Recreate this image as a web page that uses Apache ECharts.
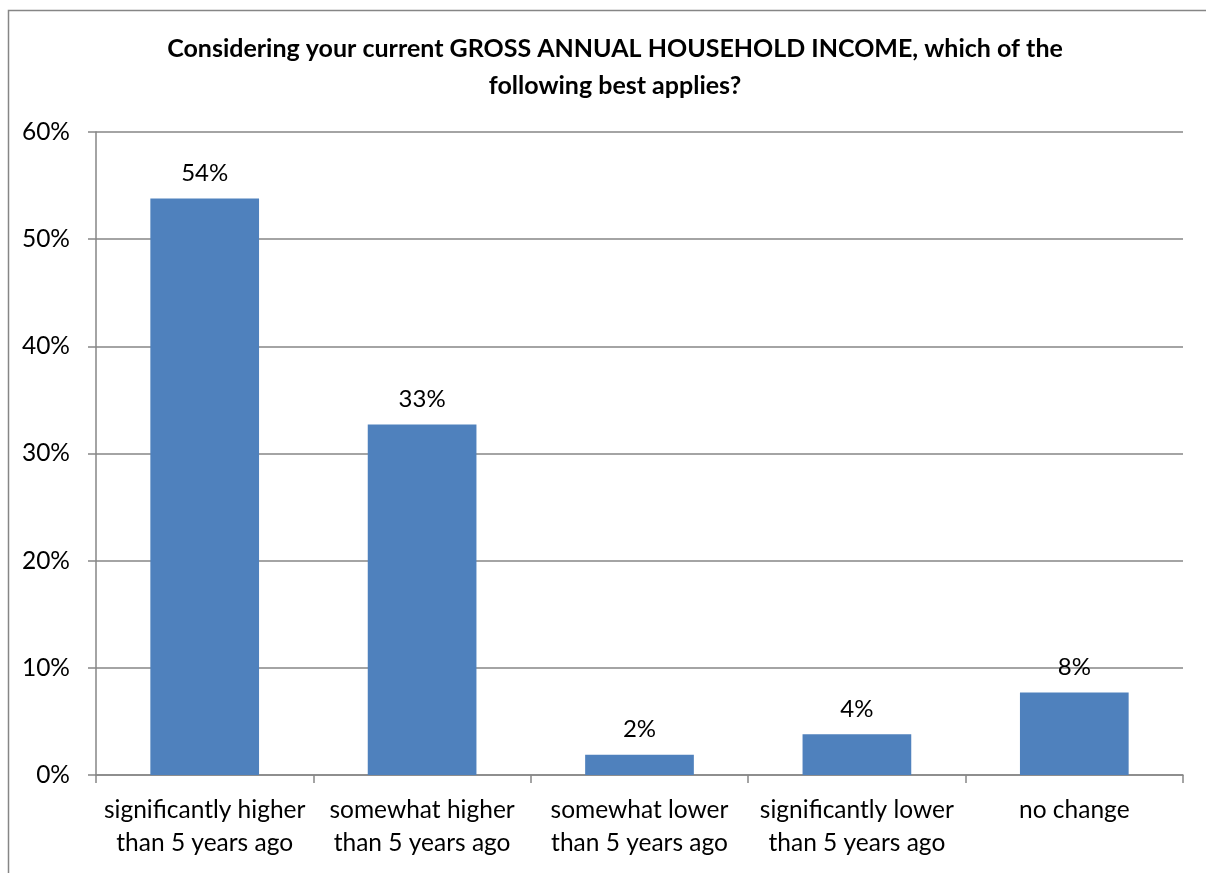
<!DOCTYPE html>
<html>
<head>
<meta charset="utf-8">
<script src="https://cdn.jsdelivr.net/npm/echarts@6/dist/echarts.min.js"></script>
<style>
  html, body { margin: 0; padding: 0; background: #fff; }
  #chart { width: 1206px; height: 873px; }
</style>
</head>
<body>
<div id="chart"></div>
<script>
// Survey answers: change in gross annual household income
const categories = [
  'significantly higher\nthan 5 years ago',
  'somewhat higher\nthan 5 years ago',
  'somewhat lower\nthan 5 years ago',
  'significantly lower\nthan 5 years ago',
  'no change'
];
// Share of respondents (fraction of 1)
const shares = [0.538, 0.327, 0.019, 0.038, 0.077];
const yTicks = [0, 0.1, 0.2, 0.3, 0.4, 0.5, 0.6];

const titleText = 'Considering your current GROSS ANNUAL HOUSEHOLD INCOME, which of the\nfollowing best applies?';
const FONT = 'Lato, "Open Sans", sans-serif';

const chart = echarts.init(document.getElementById('chart'), null, { renderer: 'canvas' });
chart.setOption({
  animation: false,
  backgroundColor: '#ffffff',
  graphic: [{
    type: 'rect',
    shape: { x: 8.5, y: 10.5, width: 1210, height: 900 },
    style: { fill: 'none', stroke: '#868686', lineWidth: 1.5 },
    silent: true
  }],
  title: {
    text: titleText,
    left: 610,
    textAlign: 'center',
    top: 25,
    textStyle: {
      fontFamily: FONT,
      fontWeight: 'bold',
      fontSize: 25,
      lineHeight: 37,
      color: '#000'
    }
  },
  grid: { left: 96, right: 23, top: 132, bottom: 98, containLabel: false },
  xAxis: {
    type: 'category',
    data: categories,
    axisLine: { lineStyle: { color: '#868686', width: 1.5 } },
    axisTick: { show: true, length: 8, alignWithLabel: false, lineStyle: { color: '#868686', width: 1.5 } },
    axisLabel: {
      interval: 0,
      margin: 19,
      fontFamily: FONT,
      fontSize: 24.5,
      lineHeight: 33,
      color: '#000'
    }
  },
  yAxis: {
    type: 'value',
    min: yTicks[0],
    max: yTicks[yTicks.length - 1],
    interval: 0.1,
    axisLine: { show: true, lineStyle: { color: '#868686', width: 1.5 } },
    axisTick: { show: true, length: 8, lineStyle: { color: '#868686', width: 1.5 } },
    splitLine: { lineStyle: { color: '#868686', width: 1.5 } },
    axisLabel: {
      margin: 26,
      fontFamily: FONT,
      fontSize: 24.5,
      color: '#000',
      formatter: v => Math.round(v * 100) + '%'
    }
  },
  series: [{
    type: 'bar',
    data: shares,
    barCategoryGap: '50%',
    itemStyle: { color: '#4F81BD' },
    label: {
      show: true,
      position: 'top',
      distance: 13,
      fontFamily: FONT,
      fontSize: 24,
      color: '#000',
      formatter: p => Math.round(p.value * 100) + '%'
    }
  }]
});
</script>
</body>
</html>
